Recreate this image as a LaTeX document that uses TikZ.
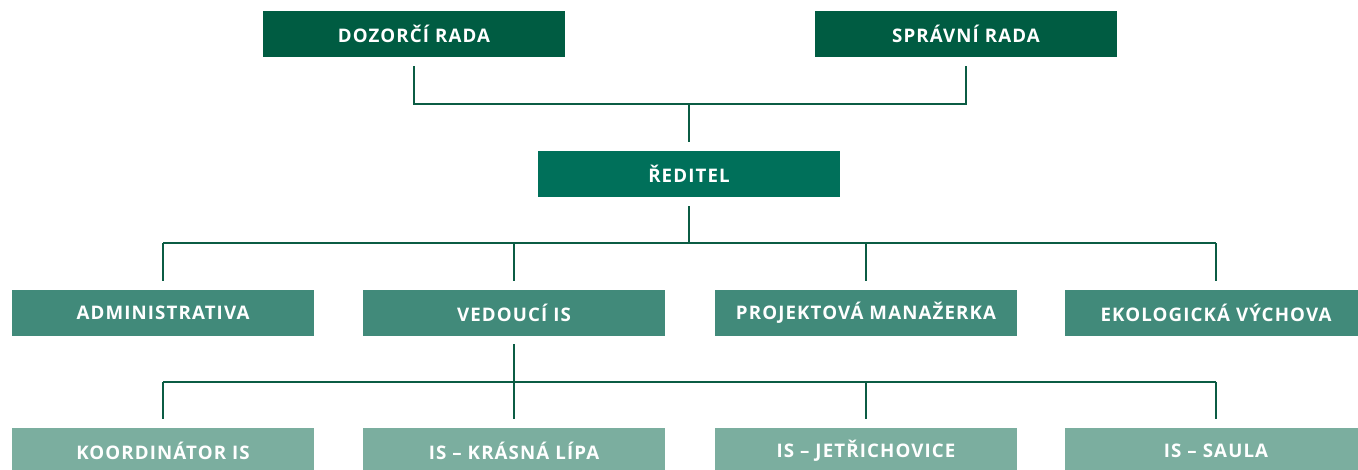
\documentclass[tikz,border=0pt]{standalone}
\usepackage{fontspec}
\setmainfont{Open Sans}[LetterSpace=6]
\definecolor{cTop}{HTML}{005C42}
\definecolor{cDir}{HTML}{00705A}
\definecolor{cMid}{HTML}{418A7A}
\definecolor{cLow}{HTML}{7BAE9F}
\definecolor{cLine}{HTML}{0B5C44}
\tikzset{
  box/.style={minimum width=302pt, minimum height=46pt, inner sep=0pt, text=white,
    font=\fontsize{18.7}{22}\selectfont\bfseries},
  topbox/.style={box, fill=cTop},
  dirbox/.style={box, fill=cDir},
  midbox/.style={box, fill=cMid},
  lowbox/.style={box, fill=cLow},
  conn/.style={draw=cLine, line width=2.3pt}
}
\begin{document}
\begin{tikzpicture}[x=1pt,y=-1pt]
\useasboundingbox (0,0) rectangle (1358,469);
\node[topbox] (dr) at (414,34) {DOZORČÍ RADA};
\node[topbox] (sr) at (966,34) {SPRÁVNÍ RADA};
\node[dirbox] (red) at (689,174) {ŘEDITEL};
\node[midbox] (adm) at (163,313) {ADMINISTRATIVA};
\node[midbox] (ved) at (514,313) {VEDOUCÍ IS};
\node[midbox] (pm) at (866,313) {PROJEKTOVÁ MANAŽERKA};
\node[midbox] (ev) at (1216,313) {EKOLOGICKÁ VÝCHOVA};
\node[lowbox] (kis) at (163,451) {KOORDINÁTOR IS};
\node[lowbox] (kl) at (514,451) {IS – KRÁSNÁ LÍPA};
\node[lowbox] (jt) at (866,451) {IS – JETŘICHOVICE};
\node[lowbox] (sa) at (1216,451) {IS – SAULA};
\coordinate (j1) at (689,104);
\coordinate (j2) at (689,243);
\coordinate (j3) at (514,382);
% top level
\draw[conn] ([yshift=-9pt]dr.south) -- (dr.south |- j1) -- (sr.south |- j1) -- ([yshift=-9pt]sr.south);
\draw[conn] (j1) -- ([yshift=9pt]red.north);
% second level
\draw[conn] ([yshift=-9pt]red.south) -- (j2);
\draw[conn] (adm.north |- j2) -- (ev.north |- j2);
\foreach \n in {adm,ved,pm,ev}{
  \draw[conn] (\n.north |- j2) -- ([yshift=9pt]\n.north);
}
% third level
\draw[conn] ([yshift=-8pt]ved.south) -- ([yshift=9pt]kl.north);
\draw[conn] (kis.north |- j3) -- (sa.north |- j3);
\foreach \n in {kis,jt,sa}{
  \draw[conn] (\n.north |- j3) -- ([yshift=9pt]\n.north);
}
\end{tikzpicture}
\end{document}
